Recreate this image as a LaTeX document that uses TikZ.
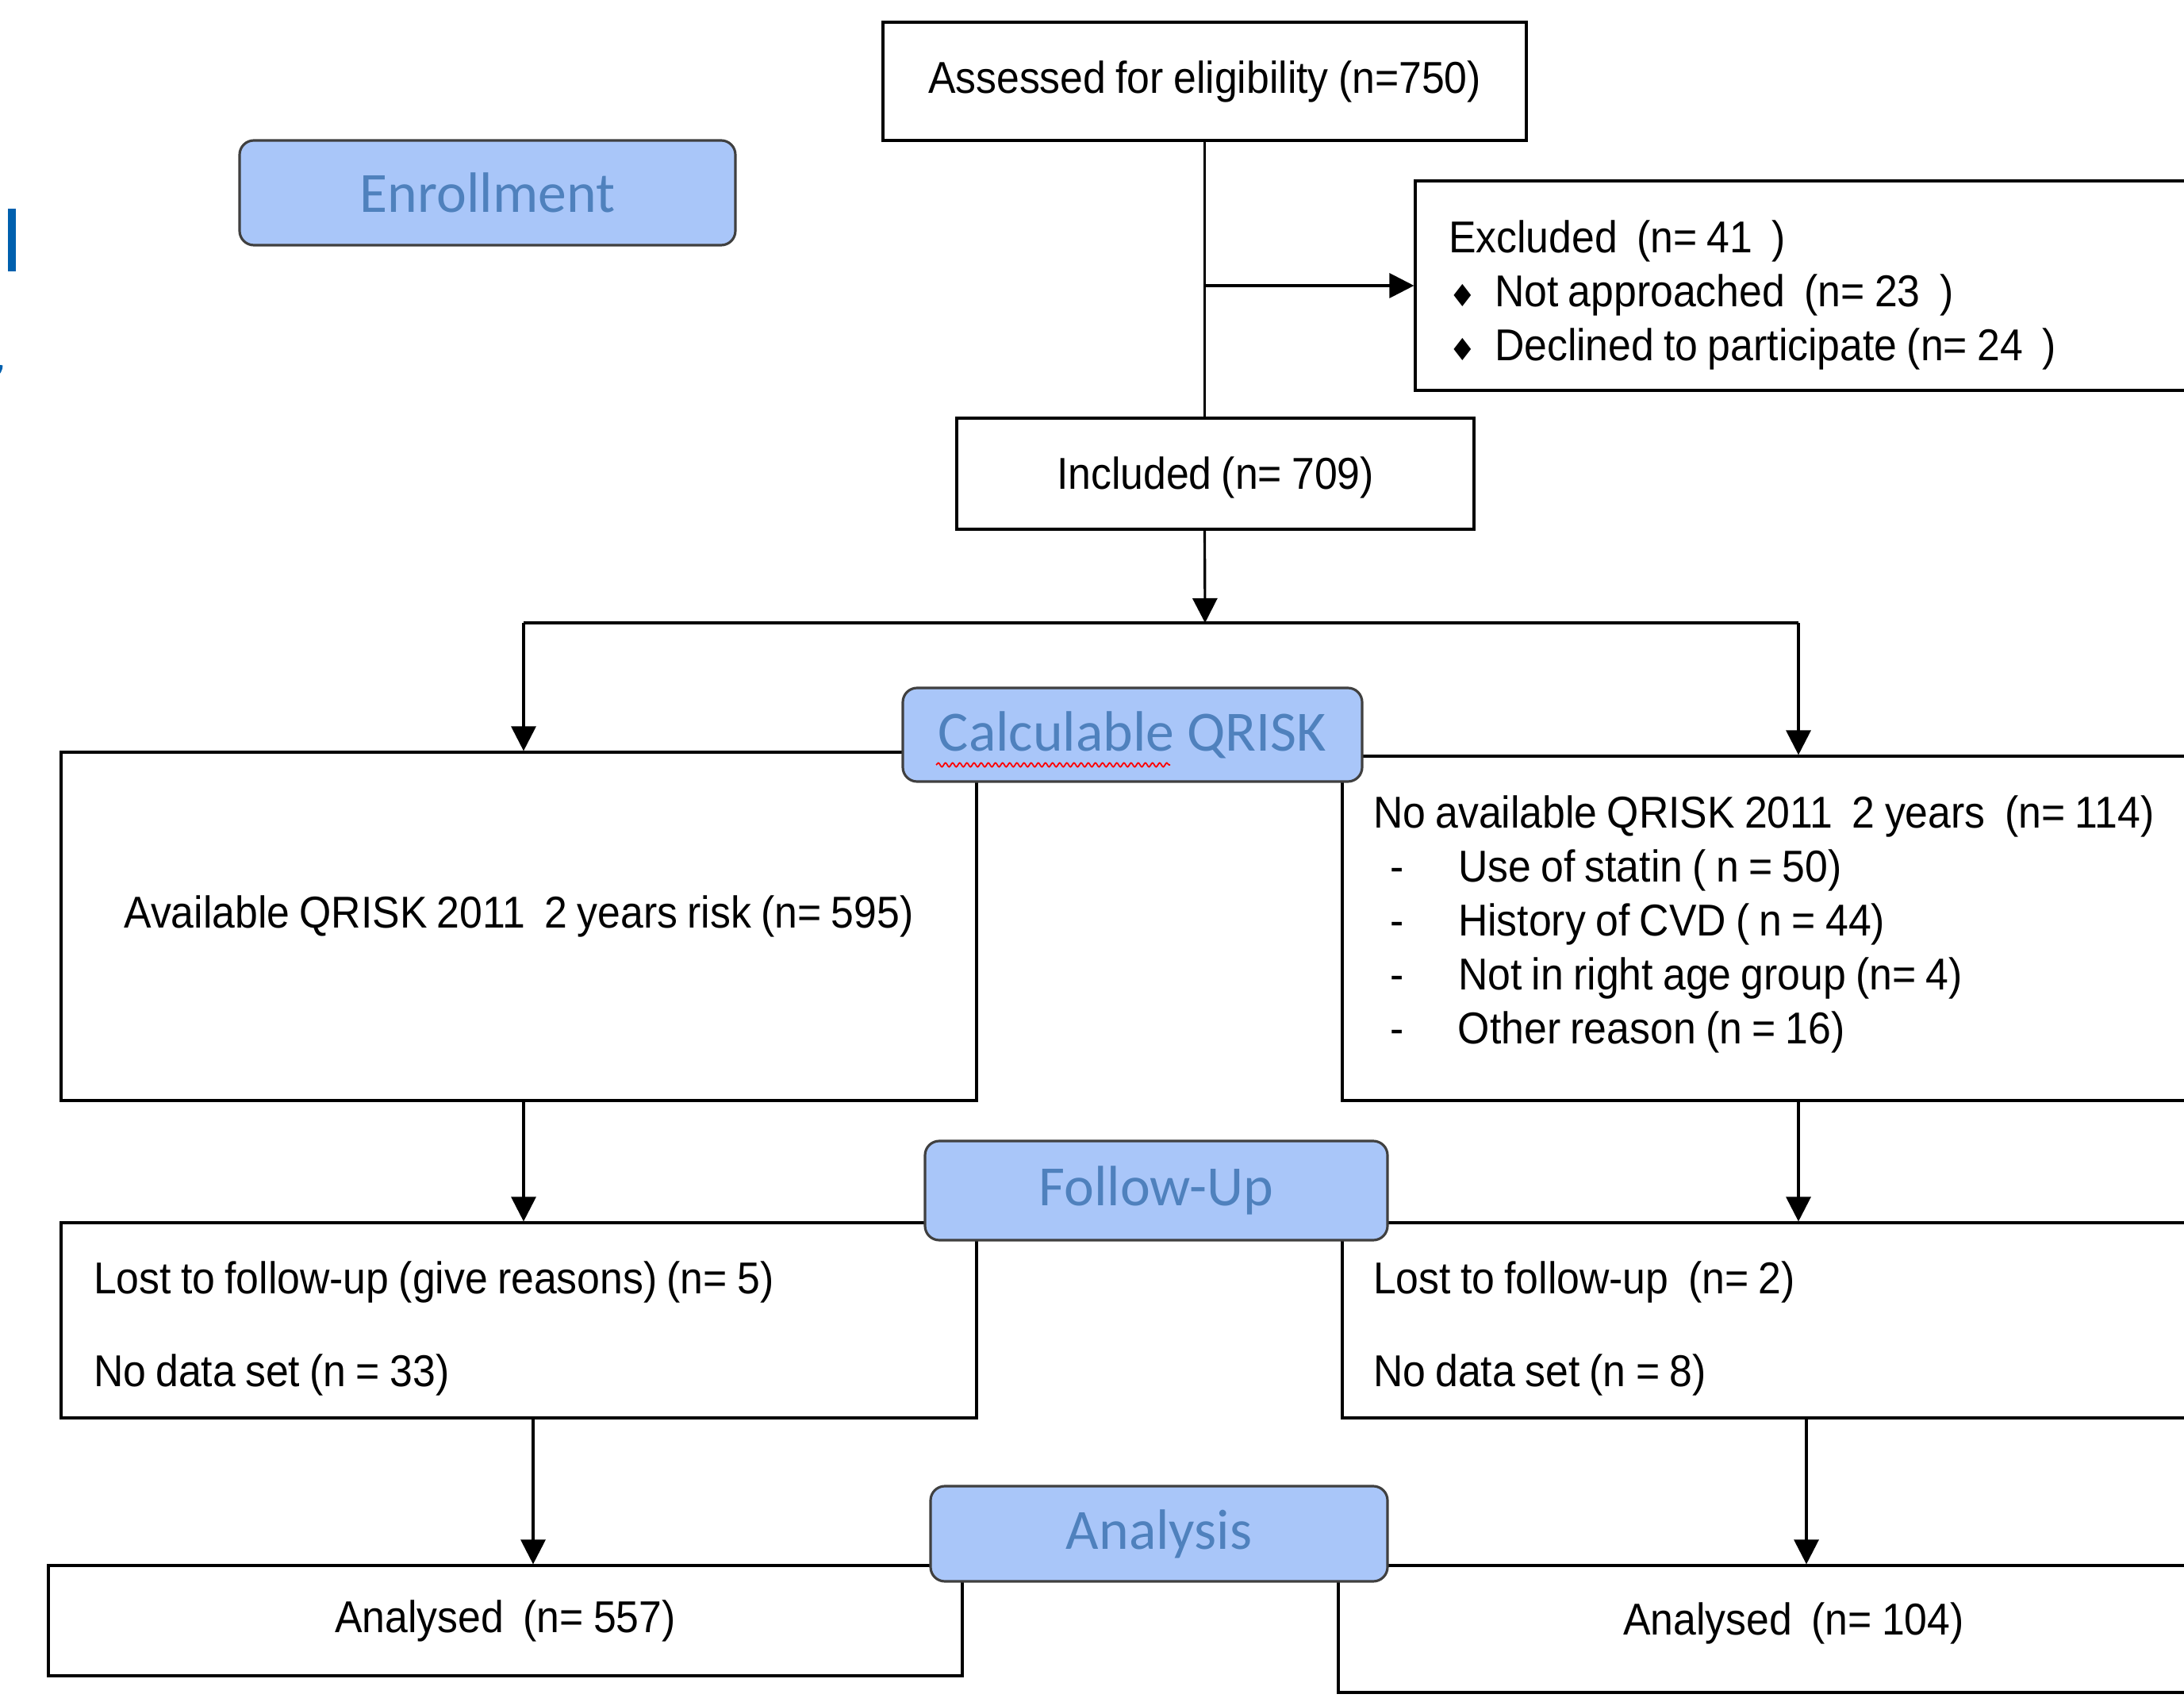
\documentclass[tikz,border=0pt]{standalone}
\usepackage{fontspec}
\setmainfont{Liberation Sans}[FakeStretch=0.92]
\newfontfamily\hdrfont{Carlito}
\newfontfamily\symfont{DejaVu Sans}
\usepackage{tikz}
\usetikzlibrary{arrows.meta,decorations.pathmorphing}
\definecolor{hdrfill}{RGB}{169,198,249}
\definecolor{hdrtext}{RGB}{79,129,189}
\definecolor{edgeblue}{RGB}{0,96,174}
\newcommand\boxfont{\fontsize{16}{19.3}\selectfont}
\newcommand\exbul{\makebox[0.58cm][l]{\hspace{0.0cm}{\symfont\fontsize{11}{11}\selectfont ♦}}}
\newcommand\itm{\makebox[1.07cm][l]{\hspace{0.21cm}-}}
\tikzset{
  box/.style={
    draw,
    line width=0.9pt,
    inner ysep=0pt,
    font=\boxfont,
    execute at begin node={\spaceskip 3.5pt\relax}
  },
  hdr/.style={
    draw=black!75,
    line width=0.9pt,
    fill=hdrfill,
    rounded corners=0.18cm,
    text=hdrtext,
    inner sep=0pt,
    font=\hdrfont\fontsize{20.4}{24}\selectfont
  },
  arr/.style={
    line width=0.9pt,
    -{Triangle[length=0.31cm,width=0.31cm]}
  },
  conn/.style={line width=0.9pt}
}
\begin{document}
\begin{tikzpicture}
  \useasboundingbox (0,0) rectangle (27.53,-21.40);
  % cut-off marks on the left edge
  \fill[edgeblue] (0.10,-2.63) rectangle (0.20,-3.42);
  \draw[edgeblue, line width=2pt] (0,-4.60) arc (0:-60:0.15);

  \node[box, minimum width=8.11cm, minimum height=1.49cm] (assess) at (15.185,-1.025) {Assessed for eligibility (n=750)};
  \node[box, minimum width=11.16cm, minimum height=2.64cm, text width=10.32cm, inner xsep=0.42cm, align=left] (excl) at (23.42,-3.60)
    {\rule{0pt}{0.65cm}Excluded\ \ (n= 41\ \ )\\ \exbul Not approached\ \ (n= 23\ \ )\\ \exbul Declined to participate (n= 24\ \ )};
  \node[box, minimum width=6.52cm, minimum height=1.40cm] (incl) at (15.32,-5.97) {\rule{0pt}{0.51cm}Included\ (n= 709)};

  \node[box, minimum width=11.54cm, minimum height=4.39cm] (avail) at (6.54,-11.675) {Available QRISK 2011\ \ 2 years risk (n= 595)\rule[-0.36cm]{0pt}{0pt}};
  \node[box, minimum width=12.08cm, minimum height=4.34cm, text width=11.30cm, inner xsep=0.39cm, align=left] (noavail) at (22.96,-11.70)
    {No available QRISK 2011\ \ 2 years\ \ (n= 114)\\
     \itm Use of statin ( n = 50)\\
     \itm History of CVD\ ( n = 44)\\
     \itm Not in right age group (n= 4)\\
     \itm Other reason\ (n = 16)\rule[-0.22cm]{0pt}{0pt}};

  \node[box, minimum width=11.54cm, minimum height=2.46cm, text width=10.72cm, inner xsep=0.41cm, align=left] (lostL) at (6.54,-16.64)
    {\rule{0pt}{0.61cm}Lost to follow-up (give reasons) (n= 5)\\[0.49cm] No data set (n = 33)};
  \node[box, minimum width=12.08cm, minimum height=2.46cm, text width=11.30cm, inner xsep=0.39cm, align=left] (lostR) at (22.96,-16.64)
    {\rule{0pt}{0.61cm}Lost to follow-up\ \ (n= 2)\\[0.49cm] No data set (n = 8)};

  \node[box, minimum width=11.52cm, minimum height=1.39cm] (anL) at (6.37,-20.425) {Analysed\ \ (n= 557)};
  \node[box, minimum width=11.48cm, minimum height=1.60cm] (anR) at (22.61,-20.53) {Analysed\ \ (n= 104)\rule[-0.26cm]{0pt}{0pt}};

  % phase headers
  \node[hdr, minimum width=6.25cm, minimum height=1.32cm] (enroll) at (6.145,-2.43) {Enrollment};
  \node[hdr, minimum width=5.79cm, minimum height=1.18cm] (calc) at (14.275,-9.26) {\rule{0pt}{0.50cm}Calculable QRISK};
  \draw[red, line width=0.5pt, decorate, decoration={snake, amplitude=0.025cm, segment length=0.09cm}] (11.80,-9.64) -- (14.75,-9.64);
  \node[hdr, minimum width=5.83cm, minimum height=1.25cm] (fu) at (14.575,-15.005) {\rule{0pt}{0.50cm}Follow-Up};
  \node[hdr, minimum width=5.76cm, minimum height=1.20cm] (an) at (14.61,-19.33) {\rule{0pt}{0.50cm}Analysis};

  % connectors
  \coordinate (branch) at (assess.south |- excl.west);
  \coordinate (split) at (15.19,-7.85);
  \coordinate (colL) at (6.60,-7.85);
  \coordinate (colR) at (22.67,-7.85);
  \draw[conn] (assess.south) -- (assess.south |- incl.north);
  \draw[arr] (branch) -- (excl.west);
  \draw[arr] (incl.south -| assess.south) -- (split);
  \draw[conn] (colL) -- (colR);
  \draw[arr] (colL) -- (colL |- avail.north);
  \draw[arr] (colR) -- (colR |- noavail.north);
  \draw[arr] (avail.south -| colL) -- (lostL.north -| colL);
  \draw[arr] (noavail.south -| colR) -- (lostR.north -| colR);
  \draw[arr] ([xshift=0.35cm]anL.north |- lostL.south) -- ([xshift=0.35cm]anL.north);
  \draw[arr] ([xshift=0.16cm]anR.north |- lostR.south) -- ([xshift=0.16cm]anR.north);
\end{tikzpicture}
\end{document}
